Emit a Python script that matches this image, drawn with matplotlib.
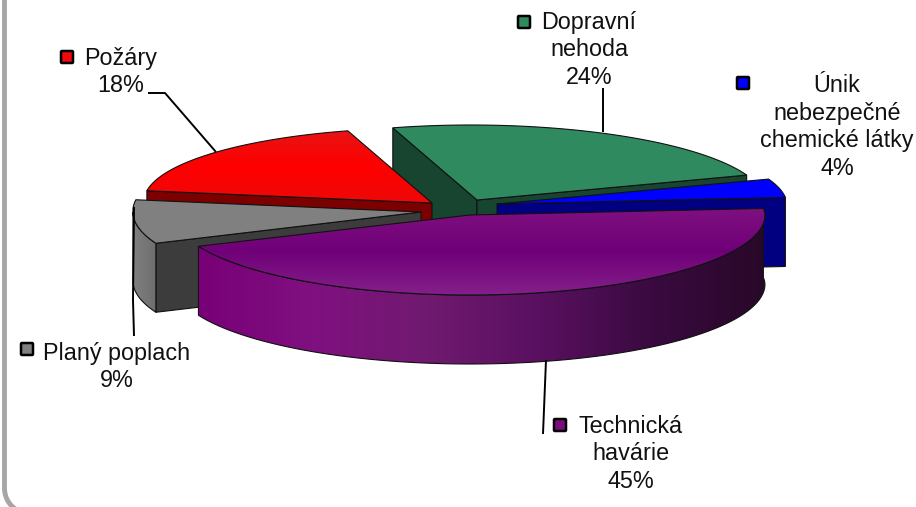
import numpy as np
import matplotlib
matplotlib.use("Agg")
import matplotlib.pyplot as plt
from matplotlib.colors import LinearSegmentedColormap
from matplotlib.patches import FancyBboxPatch, Polygon

plt.rcParams['font.family'] = ['Liberation Sans', 'DejaVu Sans']

# chart data, clockwise from the right hand side of the pie
categories = ["Technická\nhavárie", "Planý poplach", "Požáry", "Dopravní\nnehoda",
              "Únik\nnebezpečné\nchemické látky"]
values = [45, 9, 18, 24, 4]

# colours
top_colors = ["#7c0c7e", "#808080", "#f00a0a", "#2f8b5f", "#0000ff"]
face_colors = ["#5a1060", "#3c3c3c", "#7d0000", "#17452f", "#000080"]

# layout in pixels
W, H = 916, 507
START_ANGLE = 5
RY_FRONT, RY_BACK, SKEW, DEPTH = 80, 75, 6, 69
radius_x = [295, 288, 288, 288, 290]
apex = [(470, 215), (421, 212), (432, 203), (477, 200), (497, 204)]
draw_order = [3, 4, 2, 1, 0]
label_pos = [(631, 454), (117, 367), (121, 72), (589, 50), (837, 127)]
key_pos = [(560, 425), (27, 349), (67, 57), (524, 22), (743, 83)]
leaders = [([546, 543], [360, 434]),
           ([134, 133, 134], [207, 300, 336]),
           ([148, 165, 216], [93, 93, 152]),
           ([603, 603], [88, 132])]


def rim(center, rx, a0, a1, n=80):
    a = np.radians(np.linspace(a0, a1, n))
    s = np.sin(a)
    ry = np.where(s > 0, RY_BACK, RY_FRONT)
    x = center[0] + rx * np.cos(a) - SKEW * np.clip(s, 0, 1)
    y = center[1] - ry * s
    return np.column_stack([x, y])


def fill_gradient(ax, poly, stops, vertical, zorder):
    # gradient image clipped to the polygon
    cmap = LinearSegmentedColormap.from_list("g", stops)
    grad = np.linspace(0, 1, 256)
    grad = grad.reshape(-1, 1) if vertical else grad.reshape(1, -1)
    x0, y0 = poly.min(axis=0)
    x1, y1 = poly.max(axis=0)
    im = ax.imshow(grad, cmap=cmap, extent=(x0, x1, y1, y0), aspect='auto', zorder=zorder)
    clip = Polygon(poly, closed=True, transform=ax.transData, fc='none', ec='none')
    ax.add_patch(clip)
    im.set_clip_path(clip)
    ax.add_patch(Polygon(poly, closed=True, fc='none', ec='#111111', lw=0.8, zorder=zorder))


def draw_slice(ax, i, a0, a1, z):
    c = np.array(apex[i], dtype=float)
    rx = radius_x[i]
    down = np.array([0, DEPTH])
    # flat cut faces, only the ones turned to the viewer
    for a, normal in ((a0, a0 + 90), (a1, a1 - 90)):
        if np.sin(np.radians(normal)) < 0:
            p = rim(c, rx, a, a, 1)[0]
            ax.add_patch(Polygon([c, p, p + down, c + down], closed=True, fc=face_colors[i],
                                 ec='#111111', lw=0.8, zorder=z))
    # outer wall
    lo = max(a1, -180)
    hi = a0 if i == 0 else min(a0, 0)
    if hi > lo and i in (0, 1):
        arc = rim(c, rx, hi, lo)
        wall = np.vstack([arc, (arc + down)[::-1]])
        if i == 0:
            stops = ["#780078", "#801080", "#701a70", "#5a1060", "#3a0a40", "#280828"]
            fill_gradient(ax, wall, stops, False, z + 0.1)
        else:
            fill_gradient(ax, wall, ["#808080", "#6e6e6e"], False, z + 0.1)
    # top surface
    top = np.vstack([c, rim(c, rx, a0, a1)])
    if i == 0:
        fill_gradient(ax, top, ["#7f1080", "#700078", "#84208a"], True, z + 0.2)
    elif i == 2:
        fill_gradient(ax, top, ["#e81414", "#ff0000", "#ee0808"], True, z + 0.2)
    else:
        ax.add_patch(Polygon(top, closed=True, fc=top_colors[i], ec='#111111', lw=0.8, zorder=z + 0.2))


fig = plt.figure(figsize=(W / 100, H / 100), dpi=100)
ax = fig.add_axes([0, 0, 1, 1])

# grey frame, only its left side and corner are in the picture
t = np.radians(np.linspace(180, 235, 30))
frame_x = np.concatenate([[4.5], 26 + 21.5 * np.cos(t)])
frame_y = np.concatenate([[0], 488 - 24 * np.sin(t)])
ax.plot(frame_x, frame_y, color='#a6a6a6', lw=3.5, zorder=1)

ends = START_ANGLE - np.cumsum(values) * 3.6
starts = np.concatenate([[START_ANGLE], ends[:-1]])
for z, i in enumerate(draw_order):
    draw_slice(ax, i, starts[i], ends[i], 2 + z)

for lx, ly in leaders:
    ax.plot(lx, ly, color='black', lw=1.4, zorder=10, solid_capstyle='butt')

for i, name in enumerate(categories):
    ax.text(label_pos[i][0], label_pos[i][1], f"{name}\n{values[i]}%", ha='center', va='center',
            fontsize=16.8, linespacing=1.26, color='#111111', zorder=11)
    kx, ky = key_pos[i]
    ax.add_patch(FancyBboxPatch((kx - 6, ky - 6), 12, 12, boxstyle="round,pad=0,rounding_size=1",
                                fc=top_colors[i], ec='black', lw=1.8, zorder=11))

ax.set_xlim(0, W)
ax.set_ylim(H, 0)
ax.axis('off')
fig.savefig("out.png", dpi=100)
